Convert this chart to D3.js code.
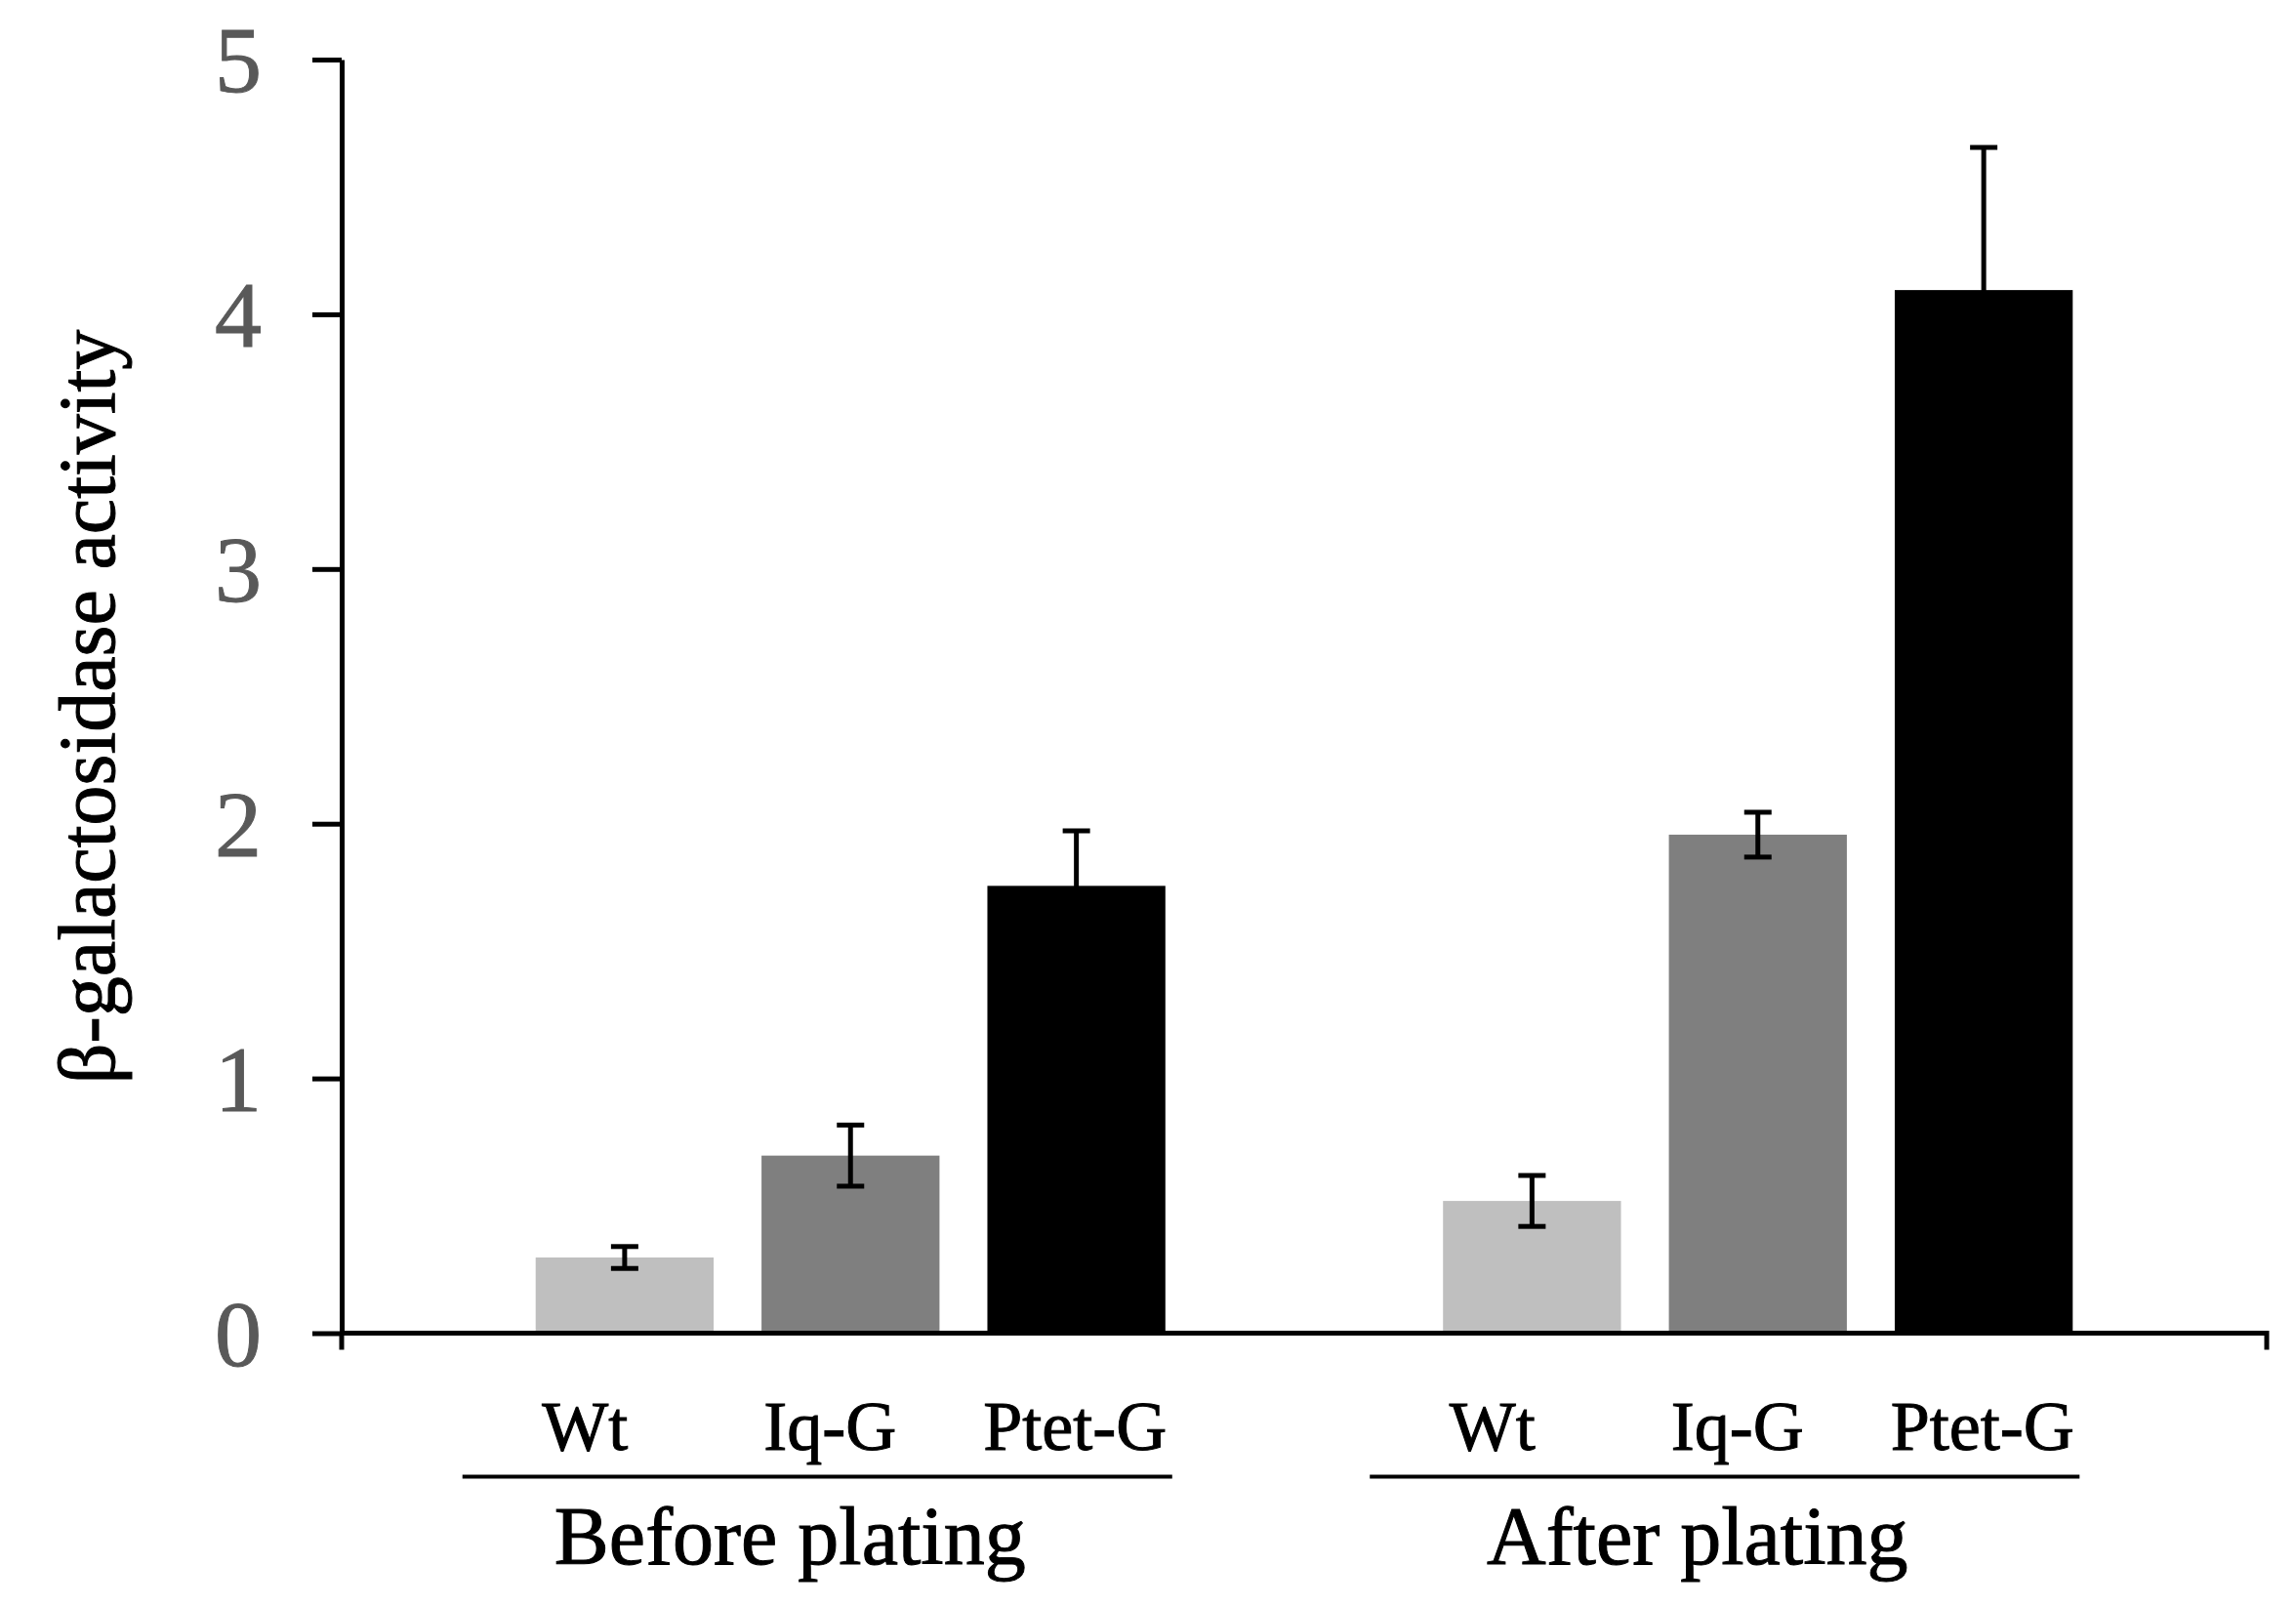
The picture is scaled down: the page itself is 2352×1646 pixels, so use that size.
<!DOCTYPE html>
<html>
<head>
<meta charset="utf-8">
<script src="https://cdn.jsdelivr.net/npm/d3@7"></script>
<style>
  body { margin: 0; background: #fff; }
  text { font-family: "Liberation Serif", "Times New Roman", serif; stroke-width: 1px; }
</style>
</head>
<body>
<div id="chart"></div>
<script>
var groups = ["Before plating", "After plating"],
    strains = ["Wt", "Iq-G", "Ptet-G"],
    beforeValues = [0.297, 0.697, 1.756],
    beforeErrors = [0.043, 0.12, 0.216],
    afterValues = [0.519, 1.957, 4.095],
    afterErrors = [0.10, 0.088, 0.56],
    yTicks = [0, 1, 2, 3, 4, 5],
    yTitle = "β-galactosidase activity",
    colors = ["#bfbfbf", "#7f7f7f", "#000000"];

var width = 2352, height = 1646,
    margin = {left: 350, top: 61, right: 30, bottom: 280.5};

// rows built from the arrays above
var rows = [];
groups.forEach(function(g, gi) {
  var vals = gi === 0 ? beforeValues : afterValues,
      errs = gi === 0 ? beforeErrors : afterErrors;
  strains.forEach(function(s, si) {
    rows.push({group: g, strain: s, value: vals[si], err: errs[si], idx: si});
  });
});

////////////////// scales //////////////////
var x0 = d3.scaleBand()
  .domain(groups)
  .range([margin.left, width - margin.right])
  .paddingInner(0.306)
  .paddingOuter(0.2138);

var x1 = d3.scaleBand()
  .domain(strains)
  .range([0, x0.bandwidth()])
  .paddingInner(0.212)
  .paddingOuter(0);

// labels under the bars sit a bit wider apart than the bars
var labelStep = 251, labelShift = -21;
var xl = d3.scalePoint()
  .domain(strains)
  .range([x0.bandwidth() / 2 - labelStep + labelShift, x0.bandwidth() / 2 + labelStep + labelShift]);

var y = d3.scaleLinear()
  .domain([0, 5])
  .range([height - margin.bottom, margin.top]);

var color = d3.scaleOrdinal().domain(strains).range(colors);

var svg = d3.select("#chart").append("svg")
  .attr("width", width)
  .attr("height", height);

////////////////// bars //////////////////
svg.append("g").selectAll("rect")
  .data(rows)
  .enter().append("rect")
  .attr("x", function(d) { return x0(d.group) + x1(d.strain); })
  .attr("y", function(d) { return y(d.value); })
  .attr("width", x1.bandwidth())
  .attr("height", function(d) { return y(0) - y(d.value); })
  .style("fill", function(d) { return color(d.strain); });

////////////////// error bars //////////////////
var capW = 28;
var eb = svg.append("g").selectAll("g")
  .data(rows)
  .enter().append("g")
  .attr("transform", function(d) { return "translate(" + (x0(d.group) + x1(d.strain) + x1.bandwidth() / 2) + ",0)"; })
  .style("stroke", "#000")
  .style("stroke-width", 5);

eb.append("line")
  .attr("y1", function(d) { return y(d.value - d.err); })
  .attr("y2", function(d) { return y(d.value + d.err); });
eb.append("line")
  .attr("x1", -capW / 2).attr("x2", capW / 2)
  .attr("y1", function(d) { return y(d.value + d.err); })
  .attr("y2", function(d) { return y(d.value + d.err); });
eb.append("line")
  .attr("x1", -capW / 2).attr("x2", capW / 2)
  .attr("y1", function(d) { return y(d.value - d.err); })
  .attr("y2", function(d) { return y(d.value - d.err); });

////////////////// y axis //////////////////
var yAxis = svg.append("g")
  .attr("transform", "translate(" + margin.left + ",0)")
  .call(d3.axisLeft(y).tickValues(yTicks).tickFormat(d3.format("d")).tickSize(30).tickSizeOuter(0).tickPadding(52));

yAxis.select(".domain").attr("stroke-width", 5);
yAxis.selectAll(".tick line").attr("stroke-width", 5);
yAxis.selectAll(".tick text")
  .style("font-size", "96px")
  .style("fill", "#595959")
  .style("stroke", "#595959")
  .attr("dy", "0.34em");

// y axis extends a little below zero
svg.append("line")
  .attr("x1", margin.left).attr("x2", margin.left)
  .attr("y1", y(0)).attr("y2", y(0) + 17)
  .style("stroke", "#000").style("stroke-width", 5);

svg.append("text")
  .attr("transform", "translate(117," + 724 + ") rotate(-90)")
  .attr("text-anchor", "middle")
  .style("font-size", "82px")
  .style("fill", "#000")
  .style("stroke", "#000")
  .text(yTitle);

////////////////// x axis //////////////////
svg.append("line")
  .attr("x1", margin.left).attr("x2", width - margin.right)
  .attr("y1", y(0)).attr("y2", y(0))
  .style("stroke", "#000").style("stroke-width", 5);
svg.append("line")
  .attr("x1", width - margin.right).attr("x2", width - margin.right)
  .attr("y1", y(0) - 2.5).attr("y2", y(0) + 17)
  .style("stroke", "#000").style("stroke-width", 5);

// strain labels
svg.append("g").selectAll("text")
  .data(rows)
  .enter().append("text")
  .attr("x", function(d) { return x0(d.group) + xl(d.strain); })
  .attr("y", y(0) + 119)
  .attr("text-anchor", "middle")
  .style("font-size", "72px")
  .style("fill", "#000")
  .style("stroke", "#000")
  .text(function(d) { return d.strain; });

// group underline and titles
var gl = svg.append("g").selectAll("g")
  .data(groups)
  .enter().append("g")
  .attr("transform", function(d) { return "translate(" + x0(d) + ",0)"; });

gl.append("line")
  .attr("x1", -75).attr("x2", x0.bandwidth() + 7)
  .attr("y1", y(0) + 147).attr("y2", y(0) + 147)
  .style("stroke", "#000").style("stroke-width", 4);

gl.append("text")
  .attr("x", x0.bandwidth() / 2 - 62)
  .attr("y", y(0) + 236)
  .attr("text-anchor", "middle")
  .style("font-size", "84px")
  .style("fill", "#000")
  .style("stroke", "#000")
  .text(function(d) { return d; });
</script>
</body>
</html>
